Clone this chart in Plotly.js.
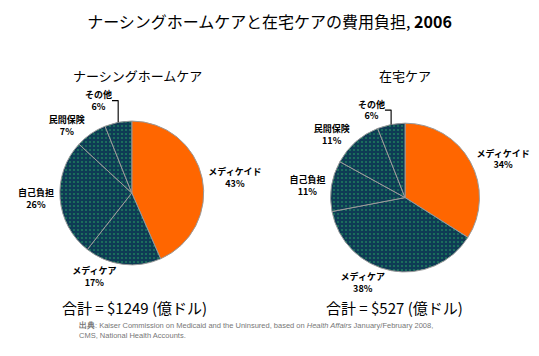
<!DOCTYPE html>
<html><head><meta charset="utf-8">
<script src="https://cdn.plot.ly/plotly-3.0.1.min.js"></script>
<style>html,body{margin:0;padding:0;background:#fff}#c{width:539px;height:356px}</style>
</head><body><div id="c"></div>
<script>
const categories = ["メディケイド", "メディケア", "自己負担", "民間保険", "その他"];
const nursingValues = [43, 17, 26, 7, 6];
const homeValues = [34, 38, 11, 11, 6];
const nursingTitle = "ナーシングホームケア";
const homeTitle = "在宅ケア";
const nursingTotal = "合計 = $1249 (億ドル)";
const homeTotal = "合計 = $527 (億ドル)";

const JP = '"Noto Sans CJK JP", "Noto Sans", sans-serif';
const dark = '#0E3B55';
const colors = ['#FF6600', dark, dark, dark, dark];
const patt = {shape: ['', '.', '.', '.', '.'], fgcolor: '#1E7A5E', bgcolor: dark, size: 4, solidity: 0.22};

function pie(vals, dom) {
  return {
    type: 'pie', labels: categories, values: vals, sort: false, direction: 'clockwise', rotation: 0,
    domain: dom, textposition: 'outside', texttemplate: '<b>%{label}<br>%{value}%</b>',
    textfont: {family: JP, size: 9, color: '#000'}, showlegend: false, hoverinfo: 'none',
    marker: {colors: colors, line: {color: '#999', width: 1}, pattern: patt}, automargin: false
  };
}

const data = [
  pie(nursingValues, {x: [0.111, 0.378], y: [0.256, 0.660]}),
  pie(homeValues, {x: [0.612, 0.891], y: [0.236, 0.654]})
];

function ann(text, xpx, ypx, size) {
  return {text: text, x: xpx / 539, y: 1 - ypx / 356, xref: 'paper', yref: 'paper', xanchor: 'center', yanchor: 'middle', showarrow: false, font: {family: JP, size: size, color: '#000'}};
}

const layout = {
  width: 539, height: 356, margin: {l: 0, r: 0, t: 0, b: 0},
  paper_bgcolor: '#fff', font: {family: JP},
  title: {text: 'ナーシングホームケアと在宅ケアの費用負担, <b>2006</b>', font: {family: JP, size: 16, color: '#000'}, x: 0.5, xanchor: 'center', y: 1 - 22/356, yanchor: 'middle'},
  annotations: [
    ann(nursingTitle, 137, 75, 13),
    ann(homeTitle, 405, 75, 13),
    ann(nursingTotal, 134, 307, 15),
    ann(homeTotal, 394, 307, 15),
    {text: '<b>出典</b>: Kaiser Commission on Medicaid and the Uninsured, based on <i>Health Affairs</i> January/February 2008,<br>CMS, National Health Accounts.', x: 77/539, y: 1 - 319/356, xref: 'paper', yref: 'paper', xanchor: 'left', yanchor: 'top', align: 'left', showarrow: false, font: {family: 'Liberation Sans, Arial, sans-serif', size: 7.5, color: '#777'}}
  ]
};
Plotly.newPlot('c', data, layout, {displayModeBar: false, staticPlot: true});
</script></body></html>
